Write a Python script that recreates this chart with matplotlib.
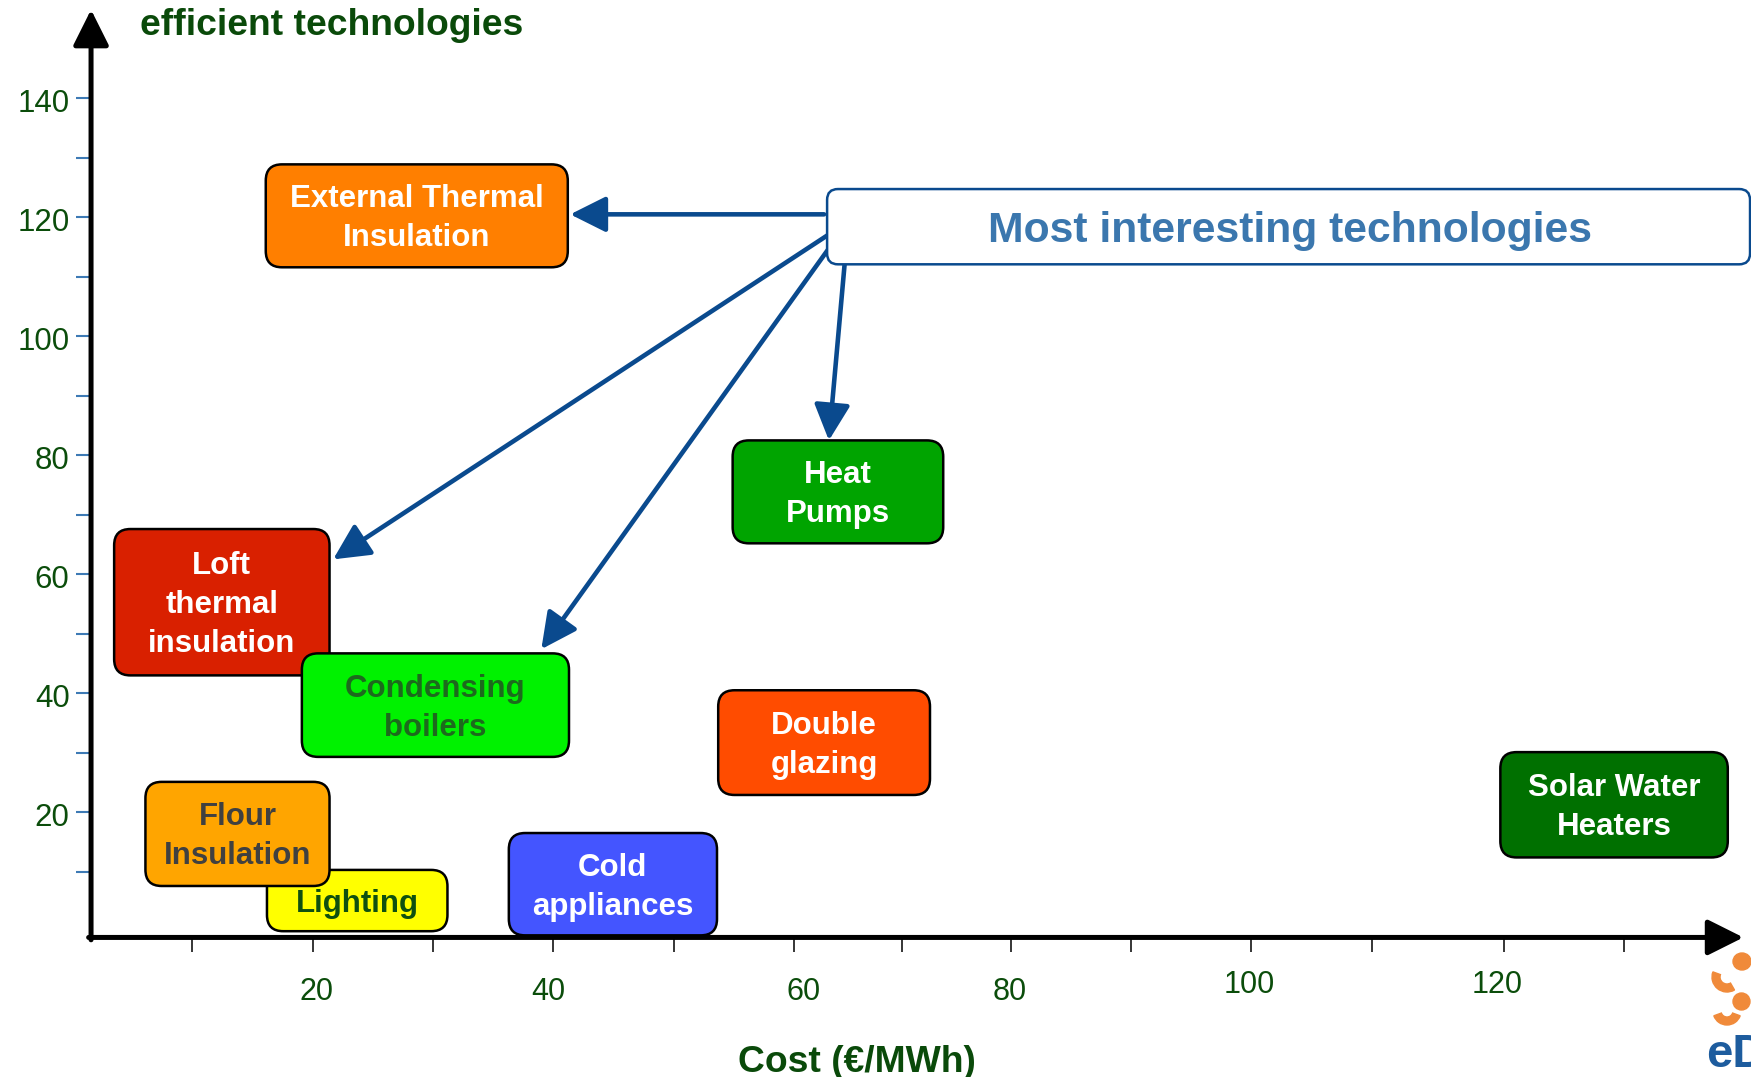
import matplotlib
matplotlib.use('Agg')
import matplotlib.pyplot as plt
from matplotlib.patches import FancyBboxPatch, Ellipse, Wedge
from matplotlib.transforms import ScaledTranslation

plt.rcParams['font.family'] = ['Liberation Sans', 'DejaVu Sans']

# technologies: cost range (€/MWh) and value range
techs = ['Loft\nthermal\ninsulation', 'Condensing\nboilers', 'External Thermal\nInsulation',
         'Heat\nPumps', 'Double\nglazing', 'Lighting', 'Flour\nInsulation',
         'Cold\nappliances', 'Solar Water\nHeaters']
cost_lo = [3.5, 19.1, 16.1, 54.9, 53.7, 16.2, 6.1, 36.3, 118.7]
cost_hi = [21.4, 41.3, 41.2, 72.4, 71.3, 31.2, 21.4, 53.6, 137.6]
eff_lo = [43.0, 29.3, 111.6, 65.2, 22.9, 0.0, 7.6, -0.7, 12.4]
eff_hi = [67.6, 46.7, 128.9, 82.5, 40.5, 10.3, 25.1, 16.5, 30.1]
box_colors = ['#d92000', '#00f200', '#ff7f00', '#00a400', '#ff4c00',
              '#ffff00', '#ffa500', '#4455ff', '#007000']
text_colors = ['white', '#1d6a1d', 'white', 'white', 'white',
               '#0f5010', '#404040', 'white', 'white']

# callout box and the arrows pointing at the retained technologies
callout_text = 'Most interesting technologies'
callout_x = [62.75, 139.45]
callout_y = [112.1, 124.75]
arrow_from = [(62.5, 120.5), (62.8, 117.0), (62.8, 114.5), (64.2, 112.0)]
arrow_to = [(41.4, 120.5), (21.7, 62.5), (39.0, 47.4), (62.9, 82.5)]

y_ticks = list(range(10, 150, 10))
y_labels = [str(v) if v % 20 == 0 else '' for v in y_ticks]
x_ticks = [10, 20, 30, 40, 50, 60, 69, 78, 88, 98, 108, 119, 129]
x_label_pos = [20.3, 39.6, 60.8, 77.9, 97.8, 118.4]
x_labels = ['20', '40', '60', '80', '100', '120']

green_txt = '#0b4d0b'
blue = '#0a4a8e'

fig = plt.figure(figsize=(17.51, 10.77), dpi=100)
ax = fig.add_axes([0, 0, 1, 1])
ax.set_xlim(-5.986, 139.53)
ax.set_ylim(-24.51, 156.53)

x_axis_y = -1.05
y_axis_x = 1.58
for s in ['top', 'right', 'left', 'bottom']:
    ax.spines[s].set_visible(False)
ax.spines['left'].set_position(('data', y_axis_x))
ax.spines['bottom'].set_position(('data', x_axis_y))

ax.set_yticks(y_ticks, y_labels)
ax.tick_params(axis='y', direction='out', length=10.5, width=1.5, color='#3d7ab5',
               labelsize=22.5, labelcolor=green_txt, pad=5)
ax.set_xticks(x_ticks, [''] * len(x_ticks))
ax.tick_params(axis='x', which='major', direction='out', length=11, width=1.1, color='black')
ax.set_xticks(x_label_pos, x_labels, minor=True)
ax.tick_params(axis='x', which='minor', length=0, labelsize=22, labelcolor=green_txt, pad=27)
shift = ScaledTranslation(0, -0.02, fig.dpi_scale_trans)
for lab in ax.get_yticklabels():
    lab.set_transform(lab.get_transform() + shift)
# the last two cost labels sit a little higher on the original slide
for lab in ax.xaxis.get_minorticklabels():
    dy = 0.045 if lab.get_text() in ('100', '120') else -0.025
    lab.set_transform(lab.get_transform() + ScaledTranslation(0, dy, fig.dpi_scale_trans))

# axis arrows
ax.annotate('', xy=(y_axis_x, 154.9), xytext=(y_axis_x, x_axis_y - 0.4),
            arrowprops=dict(arrowstyle='-|>,head_length=1.0,head_width=0.5', lw=3.6,
                            color='black', mutation_scale=22, shrinkA=0, shrinkB=0), zorder=6)
ax.annotate('', xy=(138.9, x_axis_y), xytext=(y_axis_x - 0.2, x_axis_y),
            arrowprops=dict(arrowstyle='-|>,head_length=1.0,head_width=0.5', lw=3.6,
                            color='black', mutation_scale=22, shrinkA=0, shrinkB=0), zorder=6)

# technology boxes
asp = 12.033 / 5.946
for i, name in enumerate(techs):
    w = cost_hi[i] - cost_lo[i]
    h = eff_hi[i] - eff_lo[i]
    box = FancyBboxPatch((cost_lo[i], eff_lo[i]), w, h,
                         boxstyle='round,pad=0,rounding_size=1.35', mutation_aspect=asp,
                         facecolor=box_colors[i], edgecolor='black', lw=1.8, zorder=2 + i * 0.1)
    ax.add_patch(box)
    ax.text(cost_lo[i] + w / 2, eff_lo[i] + h / 2 - 0.5, name, ha='center', va='center',
            fontsize=22.5, fontweight='bold', color=text_colors[i], linespacing=1.4,
            zorder=2.05 + i * 0.1)

# callout
cb = FancyBboxPatch((callout_x[0], callout_y[0]), callout_x[1] - callout_x[0],
                    callout_y[1] - callout_y[0], boxstyle='round,pad=0,rounding_size=0.9',
                    mutation_aspect=asp, facecolor='white', edgecolor=blue, lw=1.8, zorder=4)
ax.add_patch(cb)
ax.text(101.2, 115.9, callout_text, ha='center', va='baseline', fontsize=30.7,
        fontweight='bold', color='#3b77ae', zorder=5)
for (x0, y0), (x1, y1) in zip(arrow_from, arrow_to):
    ax.annotate('', xy=(x1, y1), xytext=(x0, y0),
                arrowprops=dict(arrowstyle='-|>,head_length=1.0,head_width=0.5', lw=3.3,
                                color=blue, mutation_scale=22, shrinkA=0, shrinkB=0), zorder=3)

ax.text(5.65, 150.6, 'efficient technologies', ha='left', va='baseline', fontsize=26.8,
        fontweight='bold', color='#0a4a0a')
ax.text(65.2, -22.0, 'Cost (€/MWh)', ha='center', va='center', fontsize=26.8,
        fontweight='bold', color='#0a4a0a')

# logo in the corner, partly cut off by the page edge
lax = fig.add_axes([1700 / 1751, 0, 100 / 1751, 140 / 1077])
lax.set_xlim(0, 100)
lax.set_ylim(0, 140)
lax.axis('off')
orange = '#f08a3a'
lax.add_patch(Ellipse((42, 115.5), 18, 17, color=orange))
lax.add_patch(Wedge((27, 100), 15, 160, 300, width=8, color=orange))
lax.add_patch(Ellipse((41.5, 75.5), 17, 17, color=orange))
lax.add_patch(Wedge((27, 66), 14, 200, 340, width=8, color=orange))
lax.text(6, 10, 'eD', ha='left', va='baseline', fontsize=34, fontweight='bold', color='#1d5c9e')

fig.savefig('out.png', dpi=100)
